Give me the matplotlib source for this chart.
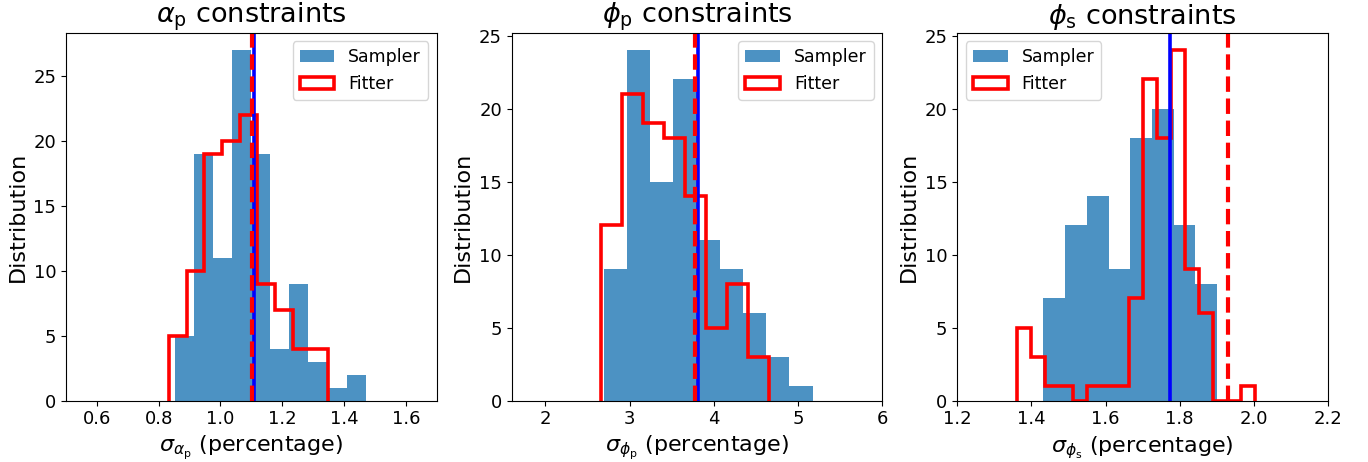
import numpy as np
import matplotlib
matplotlib.use('Agg')
import matplotlib.pyplot as plt

# alpha_p panel
ap_sampler_edges = np.linspace(0.852, 1.470, 11)
ap_sampler_counts = [5, 19, 11, 27, 19, 4, 9, 3, 1, 2]
ap_fitter_edges = np.linspace(0.833, 1.349, 10)
ap_fitter_counts = [5, 10, 19, 20, 22, 9, 7, 4, 4]
ap_truth = 1.110
ap_fit = 1.101

# phi_p panel
pp_sampler_edges = np.linspace(2.695, 5.171, 10)
pp_sampler_counts = [9, 24, 15, 22, 11, 9, 6, 3, 1]
pp_fitter_edges = np.linspace(2.656, 4.652, 9)
pp_fitter_counts = [12, 21, 19, 18, 14, 5, 8, 3]
pp_truth = 3.814
pp_fit = 3.775

# phi_s panel
ps_sampler_edges = np.linspace(1.432, 1.901, 9)
ps_sampler_counts = [7, 12, 14, 9, 18, 20, 12, 8]
ps_fitter_edges = np.linspace(1.360, 2.002, 18)
ps_fitter_counts = [5, 3, 1, 1, 0, 1, 1, 1, 7, 22, 18, 24, 9, 6, 0, 0, 1]
ps_truth = 1.775
ps_fit = 1.931

titles = [r'$\alpha_{\rm p}$ constraints', r'$\phi_{\rm p}$ constraints', r'$\phi_{\rm s}$ constraints']
xlabels = [r'$\sigma_{\alpha_{\rm p}}$ (percentage)', r'$\sigma_{\phi_{\rm p}}$ (percentage)',
           r'$\sigma_{\phi_{\rm s}}$ (percentage)']
xlims = [(0.5, 1.7), (1.6, 6.0), (1.2, 2.2)]
legend_locs = ['upper right', 'upper right', 'upper left']

panels = [
    (ap_sampler_edges, ap_sampler_counts, ap_fitter_edges, ap_fitter_counts, ap_truth, ap_fit),
    (pp_sampler_edges, pp_sampler_counts, pp_fitter_edges, pp_fitter_counts, pp_truth, pp_fit),
    (ps_sampler_edges, ps_sampler_counts, ps_fitter_edges, ps_fitter_counts, ps_truth, ps_fit),
]

fig, axes = plt.subplots(1, 3, figsize=(13.68, 4.62), dpi=100)
fig.subplots_adjust(left=0.0482, right=0.9708, bottom=0.1327, top=0.9292, wspace=0.202)

for i, ax in enumerate(axes):
    s_edges, s_counts, f_edges, f_counts, truth, fit = panels[i]
    s_centers = 0.5 * (s_edges[1:] + s_edges[:-1])
    f_centers = 0.5 * (f_edges[1:] + f_edges[:-1])
    ax.hist(s_centers, bins=s_edges, weights=s_counts, alpha=0.8, label='Sampler')
    ax.hist(f_centers, bins=f_edges, weights=f_counts, histtype='step', color='red',
            linewidth=2.6, label='Fitter')
    ax.axvline(truth, color='blue', linewidth=2.6)
    ax.axvline(fit, color='red', linestyle='--', linewidth=3)
    ax.set_xlim(xlims[i])
    ax.set_title(titles[i], fontsize=19.5)
    ax.set_xlabel(xlabels[i], fontsize=16)
    ax.set_ylabel('Distribution', fontsize=16)
    ax.tick_params(labelsize=13)
    ax.legend(loc=legend_locs[i], fontsize=12.5)

fig.savefig('out.png', dpi=100)
